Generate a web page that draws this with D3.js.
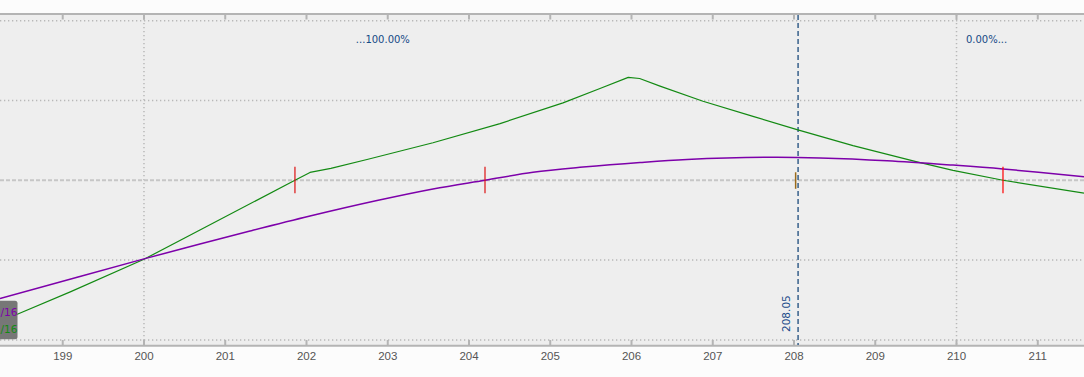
<!DOCTYPE html>
<html><head><meta charset="utf-8">
<script src="https://cdn.jsdelivr.net/npm/d3@7"></script>
<style>html,body{margin:0;padding:0;background:#fcfcfc;overflow:hidden}</style>
</head><body><svg id="c" width="1084" height="377"></svg>
<script>
// price axis ticks
const xTicks = [199,200,201,202,203,204,205,206,207,208,209,210,211];
const xGrid = [200,210];
const yGrid = [-200,-100,100,200];
const yZero = 0;
// green series (expiration P&L)
const greenPrice = [198.228,199.1,200,200.689,201.858,202.043,202.3,202.745,203.557,204.382,205.157,205.612,205.96,206.1,206.351,206.88,207.495,208.037,208.726,209.514,209.957,210.572,211.569];
const greenValue = [-177,-139.5,-99,-62.3,0,9.8,15,26,47,71,97,115,129,127.5,118,99,80,63.5,43.5,23,12.5,0,-16];
// purple series (today P&L)
const purplePrice = [198.228,200,200.689,201.305,202.043,202.868,203.557,204.197,204.788,205.403,206.105,206.683,207.705,208.32,209.145,209.957,210.572,211.569];
const purpleValue = [-148.1,-98.5,-79.9,-63.6,-44.8,-25.4,-10.9,0,10,16.5,22.3,26,28.8,28,24.5,19,14.2,4.5];
// breakeven markers
const markerPrice = [201.858,204.197,210.572];
const markerColor = ["#dd1111","#dd1111","#ff0000"];
const currentPrice = 208.05;
const currentMarker = 208.02;
const probLabels = ["...100.00%","0.00%..."];
const probPrice = [202.94,210.37];
const legendLabels = ["/16","/16"];

(function(){
const svg = d3.select("#c");
const W=1084, pTop=15, pBottom=345;
const x = d3.scaleLinear().domain([198.228,211.569]).range([0,W]);
const y = d3.scaleLinear().domain([-206.4,207.1]).range([pBottom,pTop]);

svg.append("rect").attr("x",0).attr("y",pTop).attr("width",W).attr("height",pBottom-pTop).attr("fill","#eeeeee");

// grid
svg.selectAll(".hg").data(yGrid).join("line")
  .attr("x1",0).attr("x2",W).attr("y1",d=>y(d)).attr("y2",d=>y(d))
  .attr("stroke","#b8b8b8").attr("stroke-width",1.5).attr("stroke-dasharray","1.3,2.7");
svg.selectAll(".vg").data(xGrid).join("line")
  .attr("y1",pTop).attr("y2",pBottom).attr("x1",d=>x(d)).attr("x2",d=>x(d))
  .attr("stroke","#b8b8b8").attr("stroke-width",1.5).attr("stroke-dasharray","1.3,2.7");
svg.append("line").attr("x1",0).attr("x2",W).attr("y1",y(yZero)).attr("y2",y(yZero))
  .attr("stroke","#c6c6c6").attr("stroke-width",2).attr("stroke-dasharray","4,2");

// axes
svg.append("line").attr("x1",0).attr("x2",W).attr("y1",14).attr("y2",14).attr("stroke","#b4b4b4").attr("stroke-width",2);
svg.append("line").attr("x1",0).attr("x2",W).attr("y1",345.7).attr("y2",345.7).attr("stroke","#b4b4b4").attr("stroke-width",2);
svg.selectAll(".tt").data(xTicks).join("line")
  .attr("x1",d=>x(d)).attr("x2",d=>x(d)).attr("y1",14).attr("y2",19.5)
  .attr("stroke","#b4b4b4").attr("stroke-width",2);
svg.selectAll(".bt").data(xTicks).join("line")
  .attr("x1",d=>x(d)).attr("x2",d=>x(d)).attr("y1",340).attr("y2",345.7)
  .attr("stroke","#b4b4b4").attr("stroke-width",2);
svg.selectAll(".tl").data(xTicks).join("text")
  .attr("x",d=>x(d)).attr("y",359.5).attr("text-anchor","middle")
  .attr("font-family","Liberation Sans, Arial, sans-serif").attr("font-size",11.5)
  .attr("fill","#555").text(d=>d);

// current price line
svg.append("line").attr("x1",x(currentPrice)).attr("x2",x(currentPrice)).attr("y1",pTop).attr("y2",pBottom)
  .attr("stroke","#1b4a7c").attr("stroke-width",1.3).attr("stroke-dasharray","5,3");
svg.append("text").attr("transform",`translate(${x(currentPrice)-8},332) rotate(-90)`)
  .attr("font-family","DejaVu Sans, sans-serif").attr("font-size",10.5).attr("fill","#1b4a8a")
  .text(currentPrice.toFixed(2));

// prob labels
svg.selectAll(".pl").data(probLabels).join("text")
  .attr("x",(d,i)=>x(probPrice[i])).attr("y",43).attr("text-anchor","middle")
  .attr("font-family","DejaVu Sans, sans-serif").attr("font-size",10).attr("fill","#154a86")
  .text(d=>d);

// curves
const lineG = d3.line().x(d=>x(d[0])).y(d=>y(d[1])).curve(d3.curveLinear);
const lineP = d3.line().x(d=>x(d[0])).y(d=>y(d[1])).curve(d3.curveCatmullRom.alpha(0.5));
svg.append("path").attr("d",lineG(greenPrice.map((p,i)=>[p,greenValue[i]])))
  .attr("fill","none").attr("stroke","#138a13").attr("stroke-width",1.2).attr("stroke-linejoin","round");
svg.append("path").attr("d",lineP(purplePrice.map((p,i)=>[p,purpleValue[i]])))
  .attr("fill","none").attr("stroke","#7d00aa").attr("stroke-width",1.5);

// markers
svg.selectAll(".mk").data(markerPrice).join("line")
  .attr("x1",d=>x(d)).attr("x2",d=>x(d)).attr("y1",y(0)-13.5).attr("y2",y(0)+13)
  .attr("stroke",(d,i)=>markerColor[i]).attr("stroke-width",1.2);
svg.append("line").attr("x1",x(currentMarker)).attr("x2",x(currentMarker)).attr("y1",y(0)-8).attr("y2",y(0)+8.5)
  .attr("stroke","#9a6a1a").attr("stroke-width",1.5);

// legend box (cut off)
svg.append("rect").attr("x",-30).attr("y",300.7).attr("width",47.5).attr("height",38.6).attr("rx",2.5)
  .attr("fill","#777777");
svg.selectAll(".lg").data(legendLabels).join("text")
  .attr("x",0.5).attr("y",(d,i)=>315.5+i*17.5).attr("text-anchor","start")
  .attr("font-family","DejaVu Sans, sans-serif").attr("font-size",10.5)
  .attr("fill",(d,i)=>i===0?"#7d00aa":"#138a13").text(d=>d);
})();
</script></body></html>
